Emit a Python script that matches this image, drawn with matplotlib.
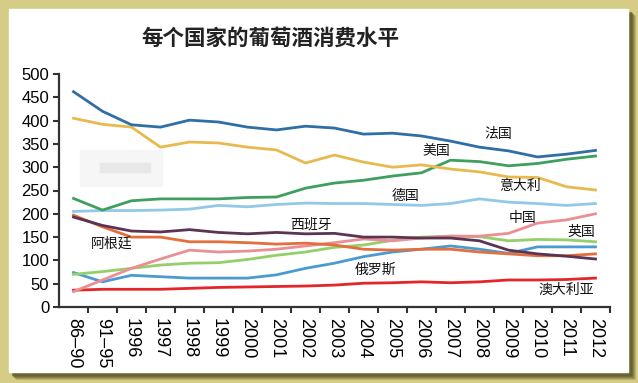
import numpy as np
import matplotlib.pyplot as plt
from matplotlib.patches import Rectangle

plt.rcParams['font.family'] = ['Liberation Sans', 'Noto Sans CJK SC', 'DejaVu Sans']

years = ['86–90', '91–95', '1996', '1997', '1998', '1999', '2000', '2001', '2002', '2003',
         '2004', '2005', '2006', '2007', '2008', '2009', '2010', '2011', '2012']

france = [462, 420, 391, 386, 401, 397, 386, 380, 388, 384, 371, 373, 367, 356, 343, 335, 322, 328, 336]
italy = [405, 392, 386, 343, 354, 352, 343, 337, 309, 326, 311, 300, 305, 296, 290, 279, 278, 258, 251]
usa = [233, 208, 228, 232, 232, 232, 235, 236, 255, 266, 272, 281, 288, 315, 312, 303, 308, 317, 324]
germany = [205, 207, 207, 208, 210, 218, 215, 220, 223, 222, 222, 220, 218, 222, 232, 225, 222, 218, 222]
argentina = [197, 172, 150, 150, 140, 140, 138, 135, 137, 133, 124, 122, 124, 124, 118, 114, 110, 110, 114]
spain = [193, 175, 163, 161, 166, 160, 157, 160, 157, 158, 150, 150, 148, 148, 142, 122, 114, 109, 103]
china = [33, 58, 83, 103, 122, 118, 120, 124, 131, 138, 146, 142, 148, 152, 152, 158, 180, 187, 200]
uk = [70, 76, 83, 90, 94, 95, 102, 111, 118, 128, 133, 143, 150, 152, 151, 142, 145, 144, 140]
russia = [74, 54, 68, 65, 62, 62, 62, 69, 83, 94, 108, 118, 124, 131, 124, 115, 129, 129, 129]
australia = [36, 38, 38, 38, 40, 42, 43, 44, 45, 47, 51, 52, 54, 52, 54, 58, 58, 59, 62]

series = [
    (australia, '#e3262a'), (russia, '#4b9bd1'), (uk, '#93cf6b'), (china, '#ea8f94'),
    (argentina, '#e26f3e'), (spain, '#5b3453'), (germany, '#92c9e6'), (usa, '#3f9f5e'),
    (italy, '#e8b94e'), (france, '#2f6fa5'),
]

labels = [('法国', 14.65, 371), ('美国', 12.5, 335), ('意大利', 15.4, 260), ('德国', 11.45, 238),
          ('中国', 15.5, 191), ('英国', 17.5, 161), ('西班牙', 8.2, 176), ('阿根廷', 1.3, 135),
          ('俄罗斯', 10.4, 79), ('澳大利亚', 17.0, 36)]

fig = plt.figure(figsize=(6.38, 3.83), dpi=100)
fig.patch.set_facecolor('#d5cd85')

# shadow + white panel
for off, a in [(7, 0.12), (6, 0.2), (5, 0.3), (4, 0.4), (3, 0.5)]:
    fig.patches.append(Rectangle(((9 + off) / 638, (11 - off) / 383), 619 / 638, 363 / 383,
                                 transform=fig.transFigure, color='#5e5828', alpha=a, zorder=0))
fig.patches.append(Rectangle((9 / 638, 11 / 383), 619 / 638, 363 / 383,
                             transform=fig.transFigure, color='white', zorder=1))
# blurred patch
fig.patches.append(Rectangle((80 / 638, (383 - 186) / 383), 82 / 638, 36 / 383,
                             transform=fig.transFigure, color='#f6f6f6', zorder=1))
fig.patches.append(Rectangle((100 / 638, (383 - 172) / 383), 50 / 638, 9 / 383,
                             transform=fig.transFigure, color='#e8e8e8', zorder=1))

ax = fig.add_axes([59 / 638, 76 / 383, 551 / 638, 233 / 383])
ax.set_facecolor('none')
ax.set_zorder(2)

x = np.arange(len(years))
for vals, c in series:
    ax.plot(x, vals, color=c, lw=2)

for txt, lx, ly in labels:
    ax.text(lx, ly, txt, ha='center', va='center', fontsize=10,
            family=['Noto Sans CJK SC', 'DejaVu Sans'], color='#111111')

ax.set_xlim(-0.5, len(years) - 0.5)
ax.set_ylim(0, 500)
ax.set_yticks(np.arange(0, 501, 50))
ax.set_xticks(x)
ax.set_xticklabels(years, rotation=270, fontsize=13)
ax.set_xticks(np.arange(0.5, len(years), 1), minor=True)
ax.tick_params(axis='x', which='major', length=0, pad=8)
ax.tick_params(axis='x', which='minor', length=4, width=1.5, color='#333333')
ax.tick_params(axis='y', length=4, width=1.5, color='#333333', labelsize=12, pad=3)
for s in ['top', 'right']:
    ax.spines[s].set_visible(False)
for s in ['left', 'bottom']:
    ax.spines[s].set_linewidth(1.6)
    ax.spines[s].set_color('#333333')

fig.text(270 / 638, 1 - 38 / 383, '每个国家的葡萄酒消费水平', ha='center', va='center',
         fontsize=15.5, fontweight='bold', family=['Noto Sans CJK SC', 'DejaVu Sans'], color='#222222')

fig.savefig('out.png', dpi=100, facecolor=fig.get_facecolor())
